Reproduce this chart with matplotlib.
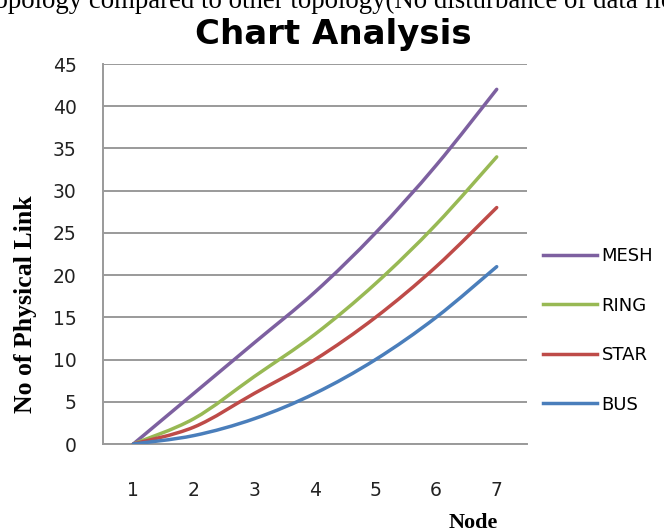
import matplotlib
matplotlib.use("Agg")
import matplotlib.pyplot as plt
from matplotlib.path import Path
from matplotlib.patches import PathPatch
from matplotlib.lines import Line2D
import numpy as np

# Number of physical links needed for each topology
nodes = [1, 2, 3, 4, 5, 6, 7]
mesh = [0, 6, 12, 18, 25, 33, 42]
ring = [0, 3, 8, 13, 19, 26, 34]
star = [0, 2, 6, 10, 15, 21, 28]
bus = [0, 1, 3, 6, 10, 15, 21]
y_ticks = [0, 5, 10, 15, 20, 25, 30, 35, 40, 45]

series = [
    ("MESH", mesh, "#7D60A0"),
    ("RING", ring, "#98B954"),
    ("STAR", star, "#BE4B48"),
    ("BUS", bus, "#4A7EBB"),
]

UI = ["DejaVu Sans"]
SERIF = ["Liberation Serif", "DejaVu Serif"]
W, H = 664, 529


def smooth_path(xs, ys):
    """Bezier path through the points, using spreadsheet-style smoothing."""
    pts = np.column_stack([xs, ys]).astype(float)
    n = len(pts)
    verts = [pts[0]]
    codes = [Path.MOVETO]
    for i in range(n - 1):
        p0 = pts[i - 1] if i > 0 else pts[i]
        p1 = pts[i]
        p2 = pts[i + 1]
        p3 = pts[i + 2] if i + 2 < n else pts[i + 1]
        c1 = p1 + (p2 - p0) / 6.0
        c2 = p2 - (p3 - p1) / 6.0
        verts += [c1, c2, p2]
        codes += [Path.CURVE4] * 3
    return Path(verts, codes)


fig = plt.figure(figsize=(W / 100, H / 100), dpi=100)
ax = fig.add_axes([103 / W, (H - 444) / H, 424 / W, 380 / H])

for name, vals, color in series:
    patch = PathPatch(smooth_path(nodes, vals), facecolor="none", edgecolor=color,
                      lw=2.5, capstyle="round", joinstyle="round", zorder=3)
    ax.add_patch(patch)

ax.set_xlim(0.5, 7.5)
ax.set_ylim(0, 45)
ax.set_xticks(nodes)
ax.set_yticks(y_ticks)
ax.tick_params(axis="both", length=0, labelsize=13.5, labelcolor="#222222")
ax.tick_params(axis="x", pad=27)
ax.tick_params(axis="y", pad=19)
for lbl in ax.get_xticklabels() + ax.get_yticklabels():
    lbl.set_fontfamily(UI)

ax.yaxis.grid(True, color="#9a9a9a", lw=1.4)
ax.set_axisbelow(True)
for side in ("top", "right"):
    ax.spines[side].set_visible(False)
for side in ("left", "bottom"):
    ax.spines[side].set_color("#9a9a9a")
    ax.spines[side].set_linewidth(1.4)

ylab = ax.set_ylabel("No of Physical Link", family=SERIF, fontweight="bold", fontsize=18.5)
ylab.set_va("center")
ax.yaxis.set_label_coords((25 - 103) / 424, (444 - 304) / 380)

fig.text(473 / W, 1 - 528 / H, "Node", family=SERIF, fontweight="bold", fontsize=16,
         ha="center", va="baseline")

fig.text(333 / W, 1 - 44 / H, "Chart Analysis", family=UI, fontweight="bold", fontsize=24.5,
         ha="center", va="baseline")
fig.text(-13 / W, 1 - 8.5 / H, "topology compared to other topology(No disturbance of data flow",
         family=SERIF, fontsize=19.3, ha="left", va="baseline")

handles = [Line2D([], [], color=c, lw=2.5) for _, _, c in series]
labels = [n for n, _, _ in series]
fig.legend(handles, labels, loc="upper left", bbox_to_anchor=(543 / W, 1 - 247 / H),
           frameon=False, handlelength=3.0, handletextpad=0.25, labelspacing=1.75,
           borderaxespad=0, borderpad=0, prop={"family": UI, "size": 13})

fig.savefig("out.png", dpi=100)
